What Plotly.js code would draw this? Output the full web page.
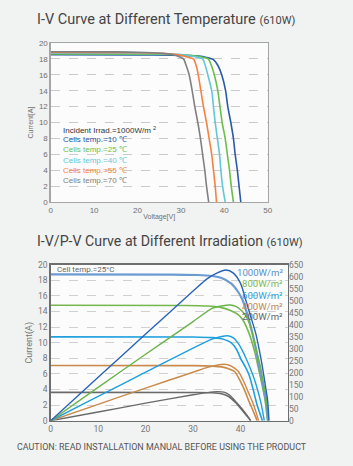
<!DOCTYPE html>
<html><head><meta charset="utf-8">
<script src="https://cdn.plot.ly/plotly-3.0.1.min.js"></script>
<style>html,body{margin:0;padding:0;background:#f1f2f2;}#chart{width:353px;height:466px;}</style>
</head><body><div id="chart"></div>
<script>
// ---- Top chart: I-V at different temperature ----
const tempLabels = ["Cells temp.=10 \u2103","Cells temp.=25 \u2103","Cells temp.=40 \u2103","Cells temp.=55 \u2103","Cells temp.=70 \u2103"];
const tempColors = ["#2b5aa8","#6abf4b","#63c7d8","#f58142","#808080"];
const t10V = [0,20,28,33,35,36.5,37.5,38.5,39.4,40.3,40.8,41.5,42.1,42.5,43.0,43.4,43.8];
const t10I = [18.52,18.5,18.47,18.4,18.3,18.1,17.9,17.2,16,14,12,10,8,6,4,2,0];
const t25V = [0,20,28,31,33.5,35,36.3,37.0,37.7,38.5,39.0,39.5,40.2,40.7,41.2,41.6,42.1];
const t25I = [18.62,18.6,18.55,18.48,18.35,18.2,18.0,17.2,16,14,12,10,8,6,4,2,0];
const t40V = [0,20,27,30,32,33.8,35,35.6,36.2,37.1,37.5,37.9,38.4,38.9,39.2,39.6,40.2];
const t40I = [18.72,18.7,18.63,18.55,18.4,18.2,18.0,17.2,16,14,12,10,8,6,4,2,0];
const t55V = [0,20,25,28,30.5,32,32.9,33.5,34.0,34.6,35.2,35.9,36.5,37.1,37.5,37.9,38.2];
const t55I = [18.82,18.78,18.72,18.6,18.4,18.15,18.0,17.2,16,14,12,10,8,6,4,2,0];
const t70V = [0,15,22,26,28,29.5,30.6,31.2,31.9,32.6,33.2,33.9,34.5,35.0,35.5,35.9,36.4];
const t70I = [18.9,18.88,18.8,18.7,18.55,18.3,18.0,17.2,16,14,12,10,8,6,4,2,0];
const tempV = [t10V,t25V,t40V,t55V,t70V];
const tempI = [t10I,t25I,t40I,t55I,t70I];
const topXTicks = [0,10,20,30,40,50];

// ---- Bottom chart: I-V / P-V at different irradiation ----
const irrLabels = ["1000W/m\u00b2","800W/m\u00b2","600W/m\u00b2","400W/m\u00b2","200W/m\u00b2"];
const irrIVColors = ["#6b9bd2","#74b84c","#1fa0dc","#c98a4b","#6a6a6a"];
const irrPVColors = ["#2a62b5","#6ab34a","#1fa0dc","#c98a4b","#6a6a6a"];
const irrTextColors = ["#5a8fcc","#80b850","#2aa0dc","#c08850","#666666"];
// I-V curves
const iv1000V = [0,25,31,34,36,38,39.5,40.4,41.5,42.5,43.3,43.9,44.7,45.3,45.8];
const iv1000I = [18.75,18.73,18.68,18.55,18.3,17.6,16.5,15.5,13.5,11.2,9.0,6.95,4.6,2.65,0];
const iv800V = [0,28,33,36,38,39.5,40.4,41.8,43.0,43.7,44.5,45.2,45.7];
const iv800I = [14.8,14.77,14.7,14.5,14.1,13.6,13.0,11.2,8.8,6.9,4.7,2.5,0];
const iv600V = [0,30,34,36,38,39.2,40,41,41.8,42.6,43.5,44.6];
const iv600I = [10.75,10.73,10.65,10.5,10.0,9.1,8.0,6.9,5.86,4.15,2.0,0];
const iv400V = [0,30,34,36,37.5,38.8,40.0,41.0,41.8,42.7,43.5];
const iv400I = [7.08,7.06,7.0,6.9,6.65,6.28,5.0,3.7,2.44,1.2,0];
const iv200V = [0,30,34,36,37.5,39,40,41,41.8,42.1];
const iv200I = [3.63,3.62,3.58,3.45,3.1,2.3,1.6,0.85,0.3,0];
// P-V curves
const pv1000V = [0,10,20,30,33,35,36.9,38.5,40,41.1,42.2,43.2,44,44.6,45.2,45.7,46.0];
const pv1000P = [0,181,361,540,592,615,628,615,572,503,430,364,290,225,150,86,0];
const pv800V = [0,10,20,30,34,36,37.9,39,40,41,41.8,42.5,43.4,44.2,44.9,45.5,45.75];
const pv800P = [0,139,277,413,468,478,482,476,462,440,408,364,290,225,150,86,0];
const pv600V = [0,10,20,30,34,36,37.3,38.5,39.5,40.4,41.1,42.6,43.5,44.4,45.0];
const pv600P = [0,101,202,302,340,351,354,345,322,292,262,190,135,65,0];
const pv400V = [0,10,20,30,33,35,36.6,37.8,38.8,39.6,40.7,41.6,42.5,43.2,43.8];
const pv400P = [0,68,136,202,222,231,235,230,218,204,162,120,79,40,0];
const pv200V = [0,10,20,30,33,35,36.5,37.8,39.2,40.3,41.3,42.1];
const pv200P = [0,36,73,108,117,121,119,105,75,50,24,0];
const ivV = [iv1000V,iv800V,iv600V,iv400V,iv200V];
const ivI = [iv1000I,iv800I,iv600I,iv400I,iv200I];
const pvV = [pv1000V,pv800V,pv600V,pv400V,pv200V];
const pvP = [pv1000P,pv800P,pv600P,pv400P,pv200P];
const botXTicks = [0,10,20,30,40];

const W=353,H=466;
const px = v => v/W, py = v => (H-v)/H;

const traces = [];
for (let k=0;k<5;k++){
  traces.push({x:tempV[k],y:tempI[k],xaxis:'x',yaxis:'y',mode:'lines',
    line:{color:tempColors[k],width:1.6,shape:'spline',smoothing:0.7},hoverinfo:'skip'});
}
for (let k=4;k>=0;k--){
  traces.push({x:ivV[k],y:ivI[k],xaxis:'x2',yaxis:'y2',mode:'lines',
    line:{color:irrIVColors[k],width:k===0?2.2:1.6,shape:'spline',smoothing:0.7},hoverinfo:'skip'});
  traces.push({x:pvV[k],y:pvP[k],xaxis:'x2',yaxis:'y3',mode:'lines',
    line:{color:irrPVColors[k],width:1.4,shape:'spline',smoothing:0.7},hoverinfo:'skip'});
}

const tickF = {family:'Liberation Sans, Arial, sans-serif',size:8,color:'#707070'};
const tickF2 = {family:'Roboto, sans-serif',size:8.5,color:'#777777'};

const annotations = [
  {xref:'paper',yref:'paper',x:px(35),y:py(20),xanchor:'left',yanchor:'middle',showarrow:false,
   text:'I-V Curve at Different Temperature <span style="font-size:11px">(610W)</span>',
   font:{family:'Roboto, sans-serif',size:14.5,color:'#444444'}},
  {xref:'paper',yref:'paper',x:px(35),y:py(241),xanchor:'left',yanchor:'middle',showarrow:false,
   text:'I-V/P-V Curve at Different Irradiation <span style="font-size:11px">(610W)</span>',
   font:{family:'Roboto, sans-serif',size:14.2,color:'#444444'}},
  {xref:'paper',yref:'paper',x:px(15),y:py(447),xanchor:'left',yanchor:'middle',showarrow:false,
   text:'CAUTION: READ INSTALLATION MANUAL BEFORE USING THE PRODUCT',
   font:{family:'Roboto, sans-serif',size:8.95,color:'#555555'}},
  {xref:'x',yref:'y',x:2.4,y:9.06,xanchor:'left',yanchor:'middle',showarrow:false,
   text:'Incident Irrad.=1000W/m <sup>2</sup>',font:{family:'Liberation Sans, Arial, sans-serif',size:8,color:'#333333'}},
  {xref:'x2',yref:'y2',x:0.9,y:19.4,xanchor:'left',yanchor:'middle',showarrow:false,
   text:'Cell temp.=25°C',font:{family:'Roboto, sans-serif',size:8,color:'#666666'}}
];
const tempY = [7.8,6.6,5.28,3.99,2.73];
for (let k=0;k<5;k++){
  annotations.push({xref:'x',yref:'y',x:2.4,y:tempY[k],xanchor:'left',yanchor:'middle',showarrow:false,
    text:tempLabels[k],font:{family:'Liberation Sans, Arial, sans-serif',size:8,color:tempColors[k]}});
}
const irrY = [19.05,17.6,16.1,14.6,13.35];
for (let k=0;k<5;k++){
  annotations.push({xref:'x2',yref:'y2',x:49.4,y:irrY[k],xanchor:'right',yanchor:'middle',showarrow:false,
    text:irrLabels[k],font:{family:'Roboto, sans-serif',size:9.6,color:irrTextColors[k]}});
}

const layout = {
  width:W,height:H,margin:{l:0,r:0,t:0,b:0},
  paper_bgcolor:'#f1f2f2',plot_bgcolor:'#fcfcfc',showlegend:false,
  xaxis:{domain:[px(50.7),px(267.7)],range:[0,50],tickvals:topXTicks,ticks:'',showgrid:false,zeroline:false,
    showline:true,mirror:true,linecolor:'#a6a6a6',linewidth:1.3,tickfont:tickF,anchor:'y',
    title:{text:'Voltage[V]',font:{family:'Liberation Sans, Arial, sans-serif',size:7,color:'#707070'},standoff:0}},
  yaxis:{domain:[py(202),py(43)],range:[0,20],dtick:2,ticks:'',showgrid:true,gridcolor:'#bdbdbd',griddash:'dash',gridwidth:0.8,
    zeroline:false,showline:true,mirror:true,linecolor:'#a6a6a6',linewidth:1.3,tickfont:tickF,anchor:'x',
    title:{text:'Current[A]',font:{family:'Liberation Sans, Arial, sans-serif',size:7,color:'#707070'},standoff:4}},
  xaxis2:{domain:[px(50.7),px(288)],range:[0,50],tickvals:botXTicks,ticks:'',showgrid:false,zeroline:false,
    showline:true,mirror:true,linecolor:'#6e6e6e',linewidth:1.4,tickfont:tickF2,anchor:'y2'},
  yaxis2:{domain:[py(420.7),py(264.7)],range:[0,20],dtick:2,ticks:'',showgrid:true,gridcolor:'#c4c4c4',griddash:'dash',gridwidth:0.8,
    zeroline:false,showline:true,mirror:true,linecolor:'#6e6e6e',linewidth:1.4,tickfont:tickF2,anchor:'x2',
    title:{text:'Current(A)',font:{family:'Roboto, sans-serif',size:9,color:'#777777'},standoff:4}},
  yaxis3:{overlaying:'y2',side:'right',anchor:'x2',range:[0,650],dtick:50,ticks:'',showgrid:false,zeroline:false,
    showline:false,tickfont:tickF2},
  annotations:annotations
};
Plotly.newPlot('chart',traces,layout,{staticPlot:true,displayModeBar:false});
</script></body></html>
